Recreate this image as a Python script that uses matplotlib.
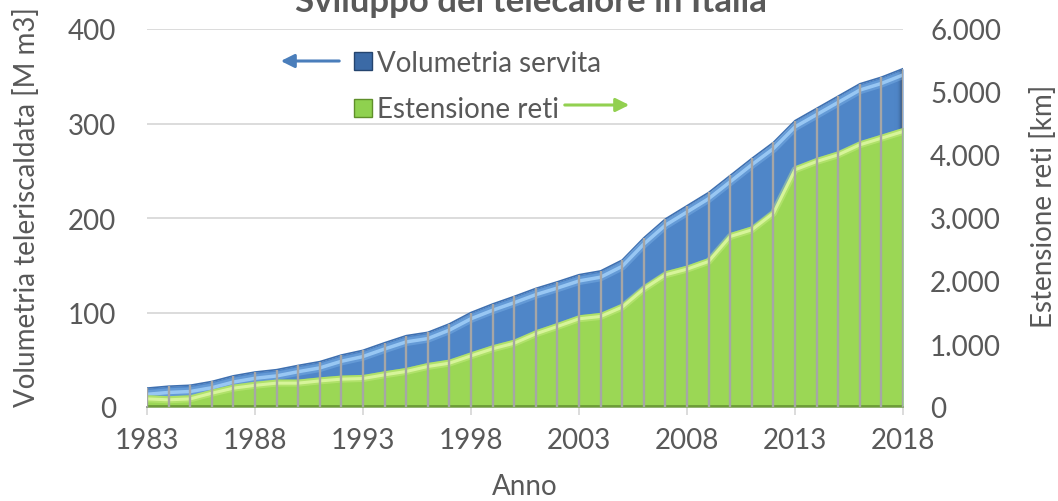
import matplotlib
matplotlib.use("Agg")
import matplotlib.pyplot as plt
import matplotlib.patheffects as pe
from matplotlib.lines import Line2D
from matplotlib.ticker import FuncFormatter
import numpy as np

# dati
anni = list(range(1983, 2019))
volumetria = [20, 22, 23, 27, 33, 37, 39.5, 44, 48, 55, 60, 68,
              75.5, 79, 88, 100, 109, 117, 125.5, 132.5, 140, 144, 155.5,
              179, 199, 213, 227, 245, 263, 280, 303, 316, 329, 342, 349, 358]
estensione = [195, 180, 195, 285, 365, 410, 445, 445, 480, 508, 518, 577,
              630, 709, 762, 878, 990, 1079, 1228, 1344, 1466, 1503, 1651,
              1940, 2164, 2254, 2376, 2772, 2878, 3143, 3831, 3963, 4069, 4228, 4333, 4439]
anni_tick = [1983, 1988, 1993, 1998, 2003, 2008, 2013, 2018]

plt.rcParams['font.family'] = ['Lato', 'DejaVu Sans']
grigio = '#595959'
fs = 20

W, H = 1058, 502
fig = plt.figure(figsize=(W / 100, H / 100), dpi=100)
ax = fig.add_axes([147 / W, 1 - 408 / H, (903 - 147) / W, (408 - 30) / H])
ax2 = ax.twinx()

blu = '#4f86c8'
verde = '#9bd755'

# volumetria (asse sinistro)
area_blu = ax.fill_between(anni, 0, volumetria, color=blu, lw=0, zorder=2)
ax.plot(anni, volumetria, color='#3f70b0', lw=1.2, zorder=3)
ax.plot(anni, volumetria, color='none', zorder=3,
        path_effects=[pe.Stroke(offset=(0, -4.5), linewidth=6,
                                foreground='#8cc0f2', alpha=0.35),
                      pe.Stroke(offset=(0, -4.5), linewidth=2.5,
                                foreground='#a6d3fb', alpha=0.8)])
# bordo scuro a destra
grad = np.linspace(0, 1, 50).reshape(1, -1) ** 2
img = ax.imshow(grad, extent=[2017.55, 2018, 0, 400], aspect='auto',
                cmap=matplotlib.colors.LinearSegmentedColormap.from_list(
                    'b', [(0.31, 0.53, 0.78, 0), (0.12, 0.2, 0.33, 1)]),
                zorder=2.5)
img.set_clip_path(area_blu.get_paths()[0], transform=ax.transData)

# estensione reti (asse destro)
ax2.fill_between(anni, 0, estensione, color=verde, lw=0, zorder=2)
ax2.plot(anni, estensione, color='none', zorder=3,
         path_effects=[pe.Stroke(offset=(0, -3), linewidth=5,
                                 foreground='#d0f28a', alpha=0.4),
                       pe.Stroke(offset=(0, -3), linewidth=2.2,
                                 foreground='#dcf7a0', alpha=0.9)])
ax2.axhline(0, color='#6d9c38', lw=3.5, zorder=3)

# linee verticali per ogni anno
ax2.vlines(anni, 0, [v * 15 for v in volumetria], color='#a6a6a6', lw=1.7, zorder=4)

ax.set_xlim(1983, 2018)
ax.set_ylim(0, 400)
ax2.set_ylim(0, 6000)
ax.set_yticks([0, 100, 200, 300, 400])
ax2.set_yticks(range(0, 6001, 1000))
ax2.yaxis.set_major_formatter(FuncFormatter(lambda v, p: f'{int(v):,}'.replace(',', '.')))
ax.set_xticks(anni_tick)
ax.grid(axis='y', color='#d9d9d9', lw=1.3)
ax.set_axisbelow(True)

for a in (ax, ax2):
    for s in ('left', 'right', 'top', 'bottom'):
        a.spines[s].set_visible(False)
ax.spines['bottom'].set_visible(True)
ax.spines['bottom'].set_color('#8c8c8c')
ax.spines['bottom'].set_linewidth(1.3)
ax.spines['bottom'].set_zorder(5)

ax.tick_params(axis='x', colors='#d9d9d9', length=5.5, width=1.3, labelcolor=grigio,
               labelsize=fs, pad=9)
ax.tick_params(axis='y', length=0, labelcolor=grigio, labelsize=fs, pad=22)
ax2.tick_params(axis='y', length=0, labelcolor=grigio, labelsize=fs, pad=19.5)

fig.text(525 / W, 1 - 487 / H, 'Anno', ha='center', va='center', color=grigio, fontsize=fs)
fig.text(27 / W, 1 - 207 / H, 'Volumetria teleriscaldata [M m3]', rotation=90,
         ha='center', va='center', color=grigio, fontsize=fs)
fig.text(1043 / W, 1 - 206 / H, 'Estensione reti [km]', rotation=90,
         ha='center', va='center', color=grigio, fontsize=fs)
fig.text(531 / W, 1 - 12.5 / H, 'Sviluppo del telecalore in Italia', ha='center',
         va='baseline', color=grigio, fontsize=25, fontweight='bold')

# legenda con frecce
handles = [Line2D([], [], ls='none', marker='s', markersize=12.5,
                  markerfacecolor='#3b6aa6', markeredgecolor='#24446e'),
           Line2D([], [], ls='none', marker='s', markersize=12.5,
                  markerfacecolor='#8fd14f', markeredgecolor='#5f8f2a')]
leg = fig.legend(handles, ['Volumetria servita', 'Estensione reti'],
                 loc='upper left', bbox_to_anchor=(338 / W, 1 - 37 / H),
                 frameon=False, fontsize=fs, handlelength=0.8, handletextpad=0.1,
                 labelspacing=0.74, borderpad=0, labelcolor=grigio)
fig.add_artist(matplotlib.patches.FancyArrowPatch(
    (342 / W, 1 - 62 / H), (278 / W, 1 - 62 / H), transform=fig.transFigure,
    arrowstyle='-|>,head_length=8,head_width=4', color='#4a7ebb', lw=2.2))
fig.add_artist(matplotlib.patches.FancyArrowPatch(
    (562 / W, 1 - 106 / H), (632 / W, 1 - 106 / H), transform=fig.transFigure,
    arrowstyle='-|>,head_length=8,head_width=4', color='#92d050', lw=2.2))

fig.savefig('out.png', dpi=100)
